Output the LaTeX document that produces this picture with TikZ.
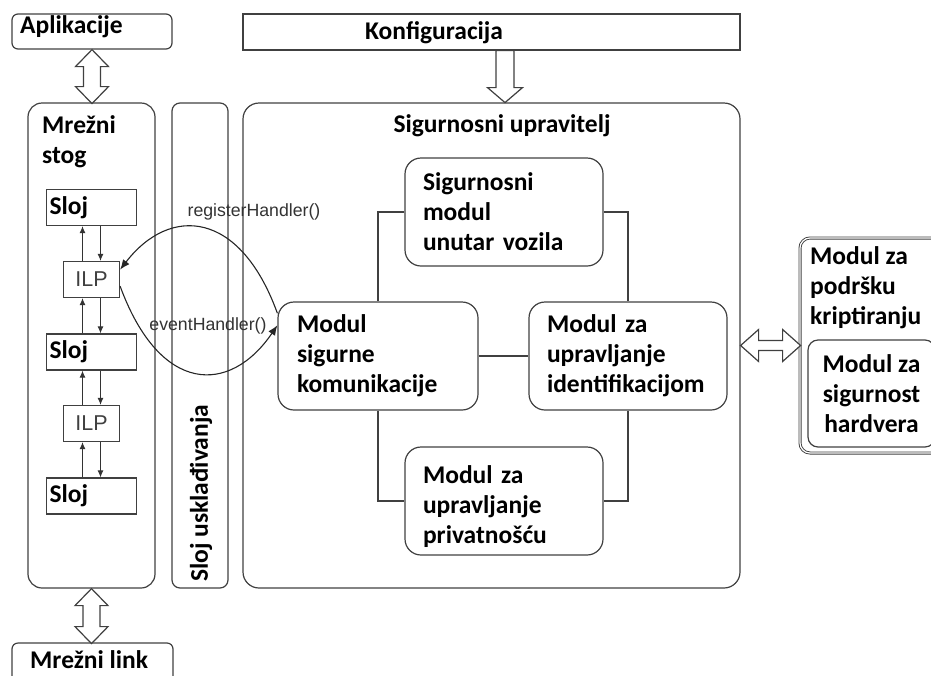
\documentclass[tikz,border=0pt]{standalone}
\usepackage{fontspec}
\setmainfont{Carlito}
\newfontfamily\arialfont{Liberation Sans}
\usetikzlibrary{arrows.meta}
\newcommand\bigtext{\fontsize{25.5}{30}\selectfont\bfseries}

\begin{document}
\begin{tikzpicture}[x=1pt,y=-1pt,
	box/.style={draw=black!75, line width=1.2pt, rounded corners=#1, inner sep=0pt},
	box/.default=14pt,
	modul/.style={box=16pt, minimum width=198pt, minimum height=108pt, text width=162pt, align=left, font=\bigtext},
	sloj/.style={draw=black!75, line width=1.2pt, minimum width=90pt, minimum height=36pt, text width=84pt, inner sep=3pt, align=left, font=\bigtext},
	ilp/.style={draw=black!75, line width=1.2pt, minimum width=56pt, minimum height=36pt, inner sep=0pt, text=black!75, font=\arialfont\fontsize{21.5}{24}\selectfont},
	txt/.style={inner sep=0pt, font=\bigtext},
	hollow/.style={draw=black!75, line width=1.2pt, fill=white, line join=miter},
	wire/.style={draw=black!75, line width=1.2pt},
	updown/.style={black!80, line width=1pt, -{Latex[length=7pt,width=6pt]}},
	call/.style={black!85, line width=1.1pt, -{Latex[length=10pt,width=8pt]}},
	handler/.style={inner sep=0pt, text=black!80, font=\arialfont\fontsize{17.7}{20}\selectfont}]
	\useasboundingbox (0,0) rectangle (931,675);

	\node[box=6pt, minimum width=160pt, minimum height=35pt] (apl) at (92,31.5) {};
	\node[txt, anchor=base west] (apltxt) at (20,33) {Aplikacije};
	\node[wire, minimum width=497pt, minimum height=36pt] (konf) at (491.5,32) {};
	\node[txt, anchor=base west] (konftxt) at (365,39) {Konfiguracija};

	\node[box, minimum width=127pt, minimum height=485pt] (ms) at (91.5,345.5) {};
	\node[txt, anchor=north west, align=left] (mstxt) at (42,115) {Mrežni\\stog};
	\node[box=8pt, minimum width=56pt, minimum height=485pt] (slu) at (200,345.5) {};
	\node[txt, rotate=90, anchor=west] (slutxt) at (201,582) {Sloj usklađivanja};
	\node[box=16pt, minimum width=497pt, minimum height=485pt] (su) at (491.5,345.5) {};
	\node[txt, anchor=base] (sutxt) at (502,132) {Sigurnosni upravitelj};
	\node[box=6pt, minimum width=161pt, minimum height=60pt] (mlink) at (92.5,673) {};
	\node[txt, anchor=base west] (mlinktxt) at (30,668) {Mrežni link};

	\node[sloj] (sloja) at (91.5,207.5) {Sloj};
	\node[ilp] (ilpa) at (91.5,279.5) {ILP};
	\node[sloj] (slojb) at (91.5,352) {Sloj};
	\node[ilp] (ilpb) at (91.5,423.5) {ILP};
	\node[sloj] (slojc) at (91.5,496) {Sloj};
	\foreach \lo/\hi in {ilpa/sloja,slojb/ilpa,ilpb/slojb,slojc/ilpb}{
		\draw[updown] ([xshift=-9pt]\lo.north) -- ([xshift=-9pt]\hi.south);
		\draw[updown] ([xshift=9pt]\hi.south) -- ([xshift=9pt]\lo.north);
	}

	\node[modul] (smuv) at (504,212) {Sigurnosni\\modul\\unutar vozila};
	\node[modul, minimum width=200pt] (msk) at (378,356) {Modul\\sigurne\\komunikacije};
	\node[modul] (mui) at (628,356) {Modul za\\upravljanje\\identifikacijom};
	\node[modul] (mup) at (504,501) {\rule{0pt}{28pt}Modul za\\upravljanje\\privatnošću};
	\draw[wire] (smuv.west) -| (msk.north);
	\draw[wire] (smuv.east) -| (mui.north);
	\draw[wire] (msk.south) |- (mup.west);
	\draw[wire] (mui.south) |- (mup.east);
	\draw[wire] (msk.east) -- (mui.west);

	\node[box=10pt, double, double distance=1.2pt, line width=0.9pt, minimum width=150pt, minimum height=215pt] (mpk) at (875,345.5) {};
	\node[txt, anchor=north west, align=left] (mpktxt) at (810,246) {Modul za\\podršku\\kriptiranju};
	\node[box=10pt, minimum width=127pt, minimum height=107pt, align=center, font=\bigtext] (msh) at (871.5,393.5) {Modul za\\sigurnost\\hardvera};

	\draw[hollow] (apl.south) -- ++(16.5,17) -- ++(-8,0) -- ++(0,20) -- ++(8,0) -- ++(-16.5,17)
		-- ++(-16.5,-17) -- ++(8,0) -- ++(0,-20) -- ++(-8,0) -- cycle;
	\draw[hollow] (ms.south) -- ++(16.5,17) -- ++(-8,0) -- ++(0,21) -- ++(8,0) -- ++(-16.5,17)
		-- ++(-16.5,-17) -- ++(8,0) -- ++(0,-21) -- ++(-8,0) -- cycle;
	\draw[hollow] (su.east) -- ++(18,-16) -- ++(0,11) -- ++(24,0) -- ++(0,-11) -- ++(18,16)
		-- ++(-18,16) -- ++(0,-11) -- ++(-24,0) -- ++(0,11) -- cycle;
	\draw[hollow] ([xshift=4.5pt]konf.south) -- ++(0,37) -- ++(-8.5,0) -- ++(17.5,15) -- ++(17.5,-15)
		-- ++(-8.5,0) -- ++(0,-37) -- cycle;

	\draw[call] (msk.157) .. controls (240,210) and (170,205) .. (ilpa.19);
	\draw[call] (ilpa.-13) .. controls (160,395) and (230,395) .. (msk.163);
	\node[handler] (reg) at (254,212) {registerHandler()};
	\node[handler] (evt) at (208,326) {eventHandler()};
\end{tikzpicture}
\end{document}
